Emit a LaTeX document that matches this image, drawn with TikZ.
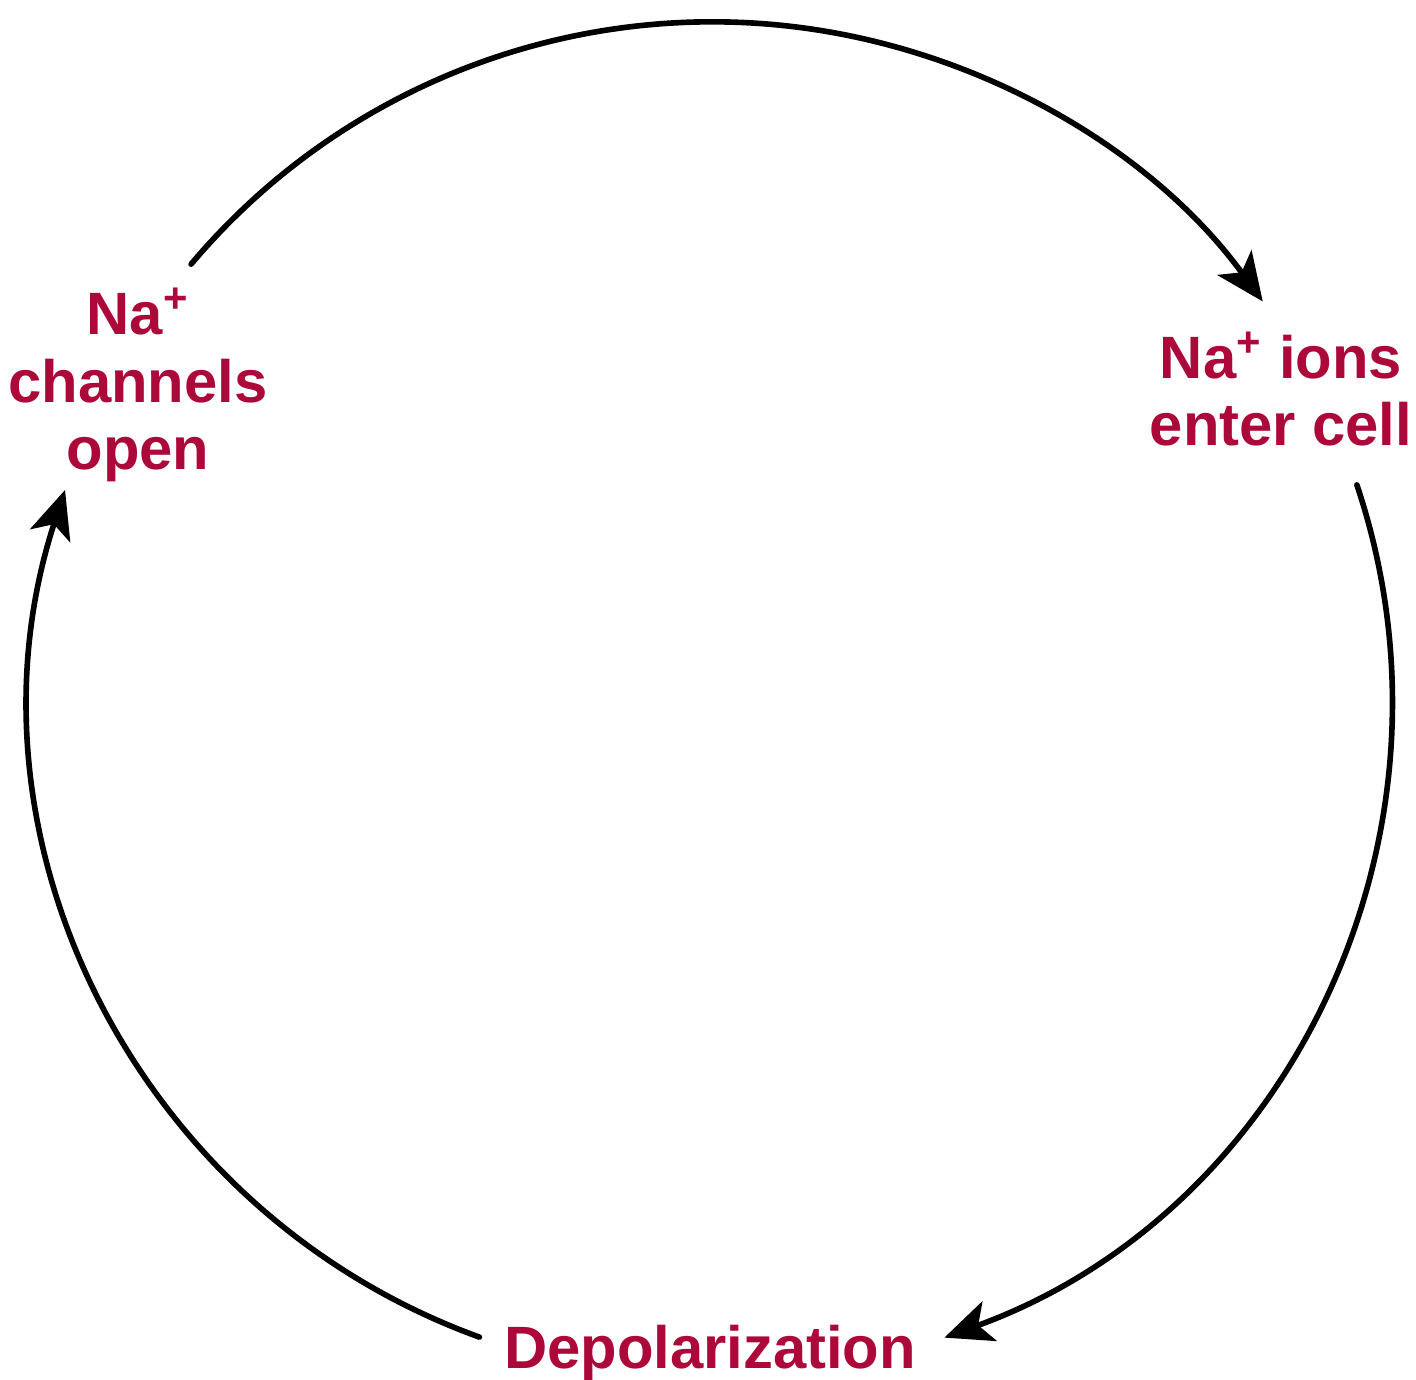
\documentclass[tikz,border=0pt]{standalone}
\usepackage{fontspec}
\setmainfont{Liberation Sans}
\usetikzlibrary{arrows.meta}
\definecolor{narose}{RGB}{172,8,58}

\begin{document}
\begin{tikzpicture}[x=0.01cm,y=0.01cm,
    stage/.style={text=narose,font=\bfseries\fontsize{17}{19.2}\selectfont,
                  align=center,inner sep=0pt},
    cycle/.style={line width=1.6pt,line cap=round,
                  -{Stealth[length=4.8mm,width=4.2mm,inset=1.2mm]}}]
  \useasboundingbox (0,0) rectangle (1416,1379);
  \coordinate (c) at (712,679);
  \node[stage] (open) at (138,994) {Na\textsuperscript{+}\\channels\\open};
  \node[stage] (enter) at (1281,990) {Na\textsuperscript{+} ions\\enter cell};
  \node[stage,anchor=base] (depol) at (710,11) {Depolarization};
  % arcs of the cycle
  \coordinate (s1) at ([shift={(140:680 and 678)}]c);
  \coordinate (s2) at ([shift={(18.5:680 and 678)}]c);
  \coordinate (s3) at ([shift={(-110:680 and 678)}]c);
  \draw[cycle] (s1) arc[start angle=140,end angle=36,x radius=6.8cm,y radius=6.78cm];
  \draw[cycle] (s2) arc[start angle=18.5,end angle=-70,x radius=6.8cm,y radius=6.78cm];
  \draw[cycle] (s3) arc[start angle=-110,end angle=-198,x radius=6.8cm,y radius=6.78cm];
\end{tikzpicture}
\end{document}
